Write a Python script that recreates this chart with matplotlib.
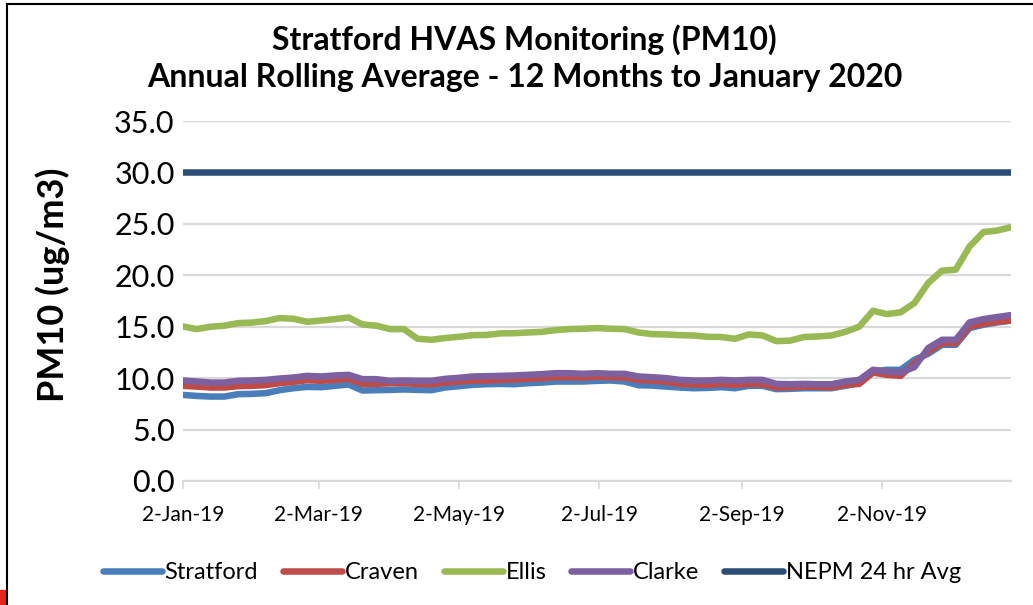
import matplotlib
matplotlib.use("Agg")
import matplotlib.pyplot as plt
from matplotlib.patches import Rectangle
from matplotlib.lines import Line2D
import numpy as np
import pandas as pd

# HVAS samples every 6 days from 2-Jan-2019
dates = pd.date_range("2019-01-02", periods=61, freq="6D")

stratford = [8.37, 8.27, 8.21, 8.21, 8.44, 8.47, 8.54, 8.83, 9.02, 9.15,
             9.12, 9.25, 9.38, 8.80, 8.83, 8.86, 8.90, 8.86, 8.83, 9.09,
             9.22, 9.35, 9.41, 9.44, 9.41, 9.51, 9.57, 9.67, 9.67, 9.67,
             9.74, 9.77, 9.67, 9.31, 9.28, 9.18, 9.09, 9.02, 9.05, 9.12,
             9.02, 9.25, 9.25, 8.93, 8.96, 9.02, 9.02, 9.02, 9.25, 9.51,
             10.64, 10.81, 10.81, 11.78, 12.37, 13.24, 13.24, 14.87, 15.19, 15.42,
             15.60]
craven = [9.25, 9.18, 9.09, 9.09, 9.22, 9.25, 9.32, 9.51, 9.64, 9.80,
          9.74, 9.83, 9.93, 9.44, 9.44, 9.51, 9.51, 9.44, 9.41, 9.57,
          9.67, 9.77, 9.77, 9.83, 9.87, 9.93, 10.00, 10.09, 10.09, 10.06,
          10.13, 10.09, 10.06, 9.83, 9.77, 9.64, 9.44, 9.38, 9.35, 9.44,
          9.35, 9.44, 9.41, 9.09, 9.12, 9.18, 9.15, 9.12, 9.35, 9.44,
          10.55, 10.32, 10.22, 11.46, 12.59, 13.41, 13.41, 15.03, 15.29, 15.48,
          15.60]
ellis = [15.02, 14.77, 15.00, 15.10, 15.35, 15.40, 15.55, 15.84, 15.77, 15.48,
         15.60, 15.74, 15.90, 15.22, 15.10, 14.77, 14.77, 13.83, 13.73, 13.90,
         14.02, 14.18, 14.20, 14.35, 14.37, 14.44, 14.50, 14.67, 14.77, 14.80,
         14.87, 14.80, 14.77, 14.44, 14.28, 14.25, 14.18, 14.15, 14.02, 14.00,
         13.83, 14.25, 14.15, 13.60, 13.65, 14.00, 14.05, 14.15, 14.50, 15.00,
         16.55, 16.23, 16.40, 17.30, 19.25, 20.45, 20.55, 22.80, 24.20, 24.35,
         24.67]
clarke = [9.77, 9.67, 9.57, 9.57, 9.74, 9.77, 9.83, 9.96, 10.06, 10.22,
          10.16, 10.26, 10.32, 9.90, 9.90, 9.74, 9.77, 9.74, 9.74, 9.93,
          10.03, 10.16, 10.19, 10.22, 10.26, 10.32, 10.39, 10.48, 10.48, 10.42,
          10.48, 10.42, 10.42, 10.16, 10.09, 10.00, 9.83, 9.77, 9.77, 9.83,
          9.77, 9.83, 9.83, 9.44, 9.41, 9.44, 9.41, 9.41, 9.67, 9.83,
          10.81, 10.64, 10.55, 11.07, 12.92, 13.73, 13.73, 15.42, 15.74, 15.94,
          16.13]
nepm = [30.0] * len(dates)

series = [("Stratford", stratford, "#4A7EBB"),
          ("Craven", craven, "#BE4B48"),
          ("Ellis", ellis, "#98B954"),
          ("Clarke", clarke, "#7D60A0"),
          ("NEPM 24 hr Avg", nepm, "#2C4D75")]

tick_dates = pd.to_datetime(["2019-01-02", "2019-03-02", "2019-05-02",
                             "2019-07-02", "2019-09-02", "2019-11-02"])
tick_labels = ["2-Jan-19", "2-Mar-19", "2-May-19", "2-Jul-19", "2-Sep-19", "2-Nov-19"]
y_ticks = [0, 5, 10, 15, 20, 25, 30, 35]

plt.rcParams["font.family"] = ["Lato", "DejaVu Sans"]

fig = plt.figure(figsize=(10.33, 6.05), dpi=100)
ax = fig.add_axes([183 / 1033, 1 - 481 / 605, (1011 - 183) / 1033, 360 / 605])

for name, vals, col in series:
    ax.plot(dates, vals, color=col, lw=4.7, label=name,
            solid_capstyle="round", solid_joinstyle="round", zorder=3)

ax.set_xlim(dates[0], dates[-1])
ax.set_ylim(0, 35)
ax.set_yticks(y_ticks)
ax.set_yticklabels(["%.1f" % v for v in y_ticks], fontsize=22)
ax.set_xticks(tick_dates)
ax.set_xticklabels(tick_labels, fontsize=15)
ax.grid(axis="y", color="#D9D9D9", lw=1.6, zorder=0)
ax.tick_params(axis="y", length=0, pad=6)
ax.tick_params(axis="x", length=6, width=1.2, color="#D9D9D9", pad=11)
for s in ["top", "right", "left"]:
    ax.spines[s].set_visible(False)
ax.spines["bottom"].set_color("#D9D9D9")
ax.spines["bottom"].set_linewidth(1.6)

ax.set_ylabel("PM10 (ug/m3)", fontsize=26, fontweight="bold")
ax.yaxis.set_label_coords(-0.137, 0.545)

fig.text(0.508, 0.934, "Stratford HVAS Monitoring (PM10)", ha="center", va="center",
         fontsize=23, fontweight="bold")
fig.text(0.508, 0.872, "Annual Rolling Average - 12 Months to January 2020", ha="center",
         va="center", fontsize=23, fontweight="bold")

handles = [Line2D([], [], color=c, lw=4.7, solid_capstyle="round") for _, _, c in series]
fig.legend(handles, [n for n, _, _ in series], loc="center", bbox_to_anchor=(0.515, 0.054),
           ncol=5, frameon=False, fontsize=17, handlelength=2.5, handletextpad=0.12,
           columnspacing=1.05)

# chart border (top and left only visible) and red corner mark
fig.add_artist(Line2D([7 / 1033, 1], [1 - 4 / 605, 1 - 4 / 605], color="black", lw=1.5,
                      transform=fig.transFigure))
fig.add_artist(Line2D([7 / 1033, 7 / 1033], [0, 1 - 4 / 605], color="black", lw=1.5,
                      transform=fig.transFigure))
fig.add_artist(Rectangle((0, 0), 5 / 1033, 15 / 605, color="#E8231E",
                         transform=fig.transFigure))

fig.savefig("out.png", dpi=100)
